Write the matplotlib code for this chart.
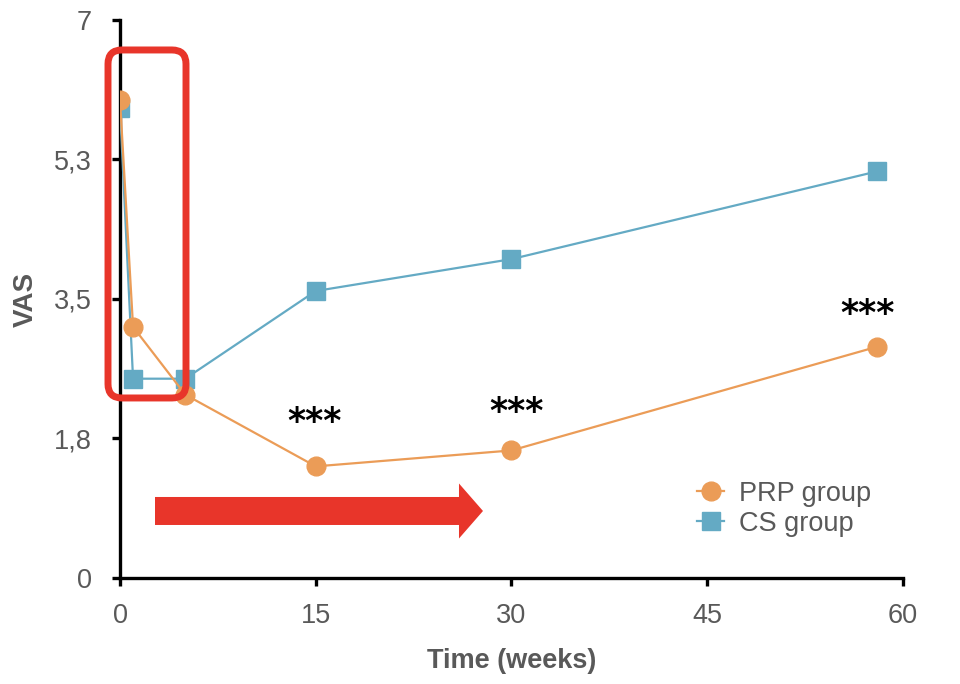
import numpy as np
import matplotlib.pyplot as plt
from matplotlib.patches import FancyBboxPatch, FancyArrow

plt.rcParams['font.family'] = ['Liberation Sans', 'DejaVu Sans']

weeks = [0, 1, 5, 15, 30, 58]
prp_vas = [6.0, 3.15, 2.3, 1.4, 1.6, 2.9]
cs_vas = [5.9, 2.5, 2.5, 3.6, 4.0, 5.1]

y_ticks = [0, 1.75, 3.5, 5.25, 7]
y_labels = ['0', '1,8', '3,5', '5,3', '7']
x_ticks = [0, 15, 30, 45, 60]

stars_x = [14.9, 30.4, 57.3]
stars_y = [1.96, 2.08, 3.31]

orange = '#EB9C57'
blue = '#64AAC4'
red = '#E8352A'
grey = '#595959'

fig = plt.figure(figsize=(9.6, 6.84), dpi=100)
ax = fig.add_axes([0.125, 0.155, 0.8156, 0.8158])

ax.plot(weeks, cs_vas, color=blue, lw=1.6, marker='s', ms=12.5, label='CS group', zorder=3)
ax.plot(weeks, prp_vas, color=orange, lw=1.6, marker='o', ms=13.5, label='PRP group', zorder=4)

for sx, sy in zip(stars_x, stars_y):
    ax.text(sx, sy, '***', ha='center', va='center', fontsize=25,
            fontweight='bold', family='DejaVu Sans', color='black')

ax.set_xlim(0, 60)
ax.set_ylim(0, 7)
ax.set_xticks(x_ticks)
ax.set_yticks(y_ticks)
ax.set_yticklabels(y_labels)
ax.tick_params(labelsize=19.5, labelcolor=grey, width=2.4, length=6, direction='out')
ax.tick_params(axis='x', pad=12)
ax.tick_params(axis='y', pad=14)
for s in ['top', 'right']:
    ax.spines[s].set_visible(False)
for s in ['left', 'bottom']:
    ax.spines[s].set_linewidth(2.4)
ax.set_xlabel('Time (weeks)', fontsize=19.5, fontweight='bold', color=grey, labelpad=14)
ax.set_ylabel('VAS', fontsize=20, fontweight='bold', color=grey, labelpad=11)

# red rounded box highlighting the first weeks
xpu = 60 / 783.0
ypu = 7 / 558.0
r = 14
box = FancyBboxPatch((-12 * xpu + r * xpu, 180 * ypu + r * ypu),
                     78 * xpu - 2 * r * xpu, 348 * ypu - 2 * r * ypu,
                     boxstyle='round,pad=%f' % (r * xpu),
                     mutation_aspect=ypu / xpu,
                     fill=False, ec=red, lw=5, transform=ax.transData,
                     clip_on=False, zorder=6)
ax.add_patch(box)

# red arrow
arrow = FancyArrow(35 * xpu, 67 * ypu, 328 * xpu, 0, width=28 * ypu,
                   head_width=55 * ypu, head_length=24 * xpu,
                   length_includes_head=True, color=red, lw=0, zorder=5)
ax.add_patch(arrow)

handles, labels = ax.get_legend_handles_labels()
ax.legend(handles[::-1], labels[::-1], loc='upper left', bbox_to_anchor=(0.737, 0.174),
          frameon=False, fontsize=19.5, labelcolor=grey, handlelength=1.0,
          handletextpad=0.55, labelspacing=0.15, borderpad=0, borderaxespad=0)

fig.savefig('out.png', dpi=100)
